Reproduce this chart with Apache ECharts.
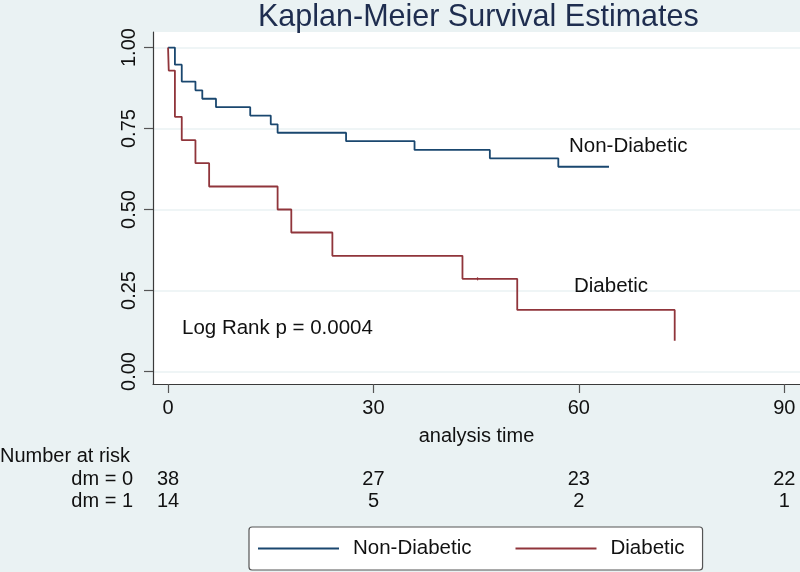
<!DOCTYPE html>
<html>
<head>
<meta charset="utf-8">
<script src="https://cdn.jsdelivr.net/npm/echarts@6/dist/echarts.min.js"></script>
<style>
html,body{margin:0;padding:0;background:#eaf2f3;}
#chart{width:800px;height:572px;}
</style>
</head>
<body>
<div id="chart"></div>
<script>
// ---- data ----
const titleText = 'Kaplan-Meier Survival Estimates';
const seriesNames = ['Non-Diabetic', 'Diabetic'];
const nonDiabeticTimes = [0, 1, 2, 4, 5, 7, 12, 15, 16, 26, 36, 47, 57, 64.4];
const nonDiabeticSurv  = [1, 0.947, 0.895, 0.868, 0.842, 0.816, 0.790, 0.763, 0.737, 0.711, 0.684, 0.658, 0.632, 0.632];
const diabeticTimes = [0, 0.1, 1, 2, 4, 6, 16, 18, 24, 43, 51, 74];
const diabeticSurv  = [1, 0.929, 0.786, 0.714, 0.643, 0.571, 0.5, 0.429, 0.357, 0.286, 0.190, 0.095];
const diabeticCensorTimes = [45.2];
const diabeticCensorSurv  = [0.286];
const xTicks = [0, 30, 60, 90];
const yTicks = [0, 0.25, 0.5, 0.75, 1];
const riskTimes = [0, 30, 60, 90];
const riskGroups = ['dm = 0', 'dm = 1'];
const riskDm0 = [38, 27, 23, 22];
const riskDm1 = [14, 5, 2, 1];
const pValueText = 'Log Rank p = 0.0004';

// ---- build ----
const FONT = "'Liberation Sans', Arial, Helvetica, sans-serif";
const navy = '#1a476f', maroon = '#90353b';
const zip = (a, b) => a.map((v, i) => [v, b[i]]);
const riskData = [];
riskTimes.forEach((t, i) => {
  riskData.push([t, riskGroups[0], riskDm0[i]]);
  riskData.push([t, riskGroups[1], riskDm1[i]]);
});

const chart = echarts.init(document.getElementById('chart'), null, {renderer: 'canvas'});
chart.setOption({
  backgroundColor: '#eaf2f3',
  animation: false,
  textStyle: {fontFamily: FONT},
  title: {
    text: titleText, left: 253, top: -3,
    textStyle: {fontFamily: FONT, fontSize: 30.5, fontWeight: 'normal', color: '#1e2d4f'}
  },
  grid: [
    {left: 153, right: 0, top: 32, bottom: 188, show: true, backgroundColor: '#ffffff', borderWidth: 0},
    {left: 153, right: 0, top: 468, height: 44, show: false}
  ],
  xAxis: [
    {
      type: 'value', gridIndex: 0, min: -2.2, max: 92.3,
      name: 'analysis time', nameLocation: 'middle', nameGap: 42,
      nameTextStyle: {fontFamily: FONT, fontSize: 20, color: '#111'},
      axisLine: {show: true, onZero: false, lineStyle: {color: '#3a3a3a', width: 1.2}},
      axisTick: {show: true, customValues: xTicks, length: 9, lineStyle: {color: '#555', width: 1.2}},
      axisLabel: {customValues: xTicks, margin: 14, fontFamily: FONT, fontSize: 20, color: '#111'},
      splitLine: {show: false}
    },
    {
      type: 'value', gridIndex: 1, min: -2.2, max: 92.3, show: false
    }
  ],
  yAxis: [
    {
      type: 'value', gridIndex: 0, min: -0.0386, max: 1.048,
      axisLine: {show: true, onZero: false, lineStyle: {color: '#3a3a3a', width: 1.2}},
      axisTick: {show: true, customValues: yTicks, length: 9, lineStyle: {color: '#555', width: 1.2}},
      axisLabel: {customValues: yTicks, rotate: 90, margin: 14, fontFamily: FONT, fontSize: 20, color: '#111',
                  formatter: v => Number(v).toFixed(2)},
      splitLine: {show: true, lineStyle: {color: '#eaf2f3', width: 1.5}}
    },
    {
      type: 'category', gridIndex: 1, data: riskGroups, inverse: true,
      axisLine: {show: false}, axisTick: {show: false},
      axisLabel: {interval: 0, margin: 20, fontFamily: FONT, fontSize: 20, color: '#111'}
    }
  ],
  legend: {
    data: seriesNames,
    left: 249, top: 527,
    padding: [11, 18, 11, 9],
    itemGap: 44, itemWidth: 81, itemHeight: 1.8, icon: 'rect',
    backgroundColor: '#ffffff', borderColor: '#555', borderWidth: 1.2, borderRadius: 3,
    textStyle: {fontFamily: FONT, fontSize: 20.5, color: '#111', padding: [0, 0, 0, 9]}
  },
  series: [
    {
      name: seriesNames[0], type: 'line', step: 'end', xAxisIndex: 0, yAxisIndex: 0,
      data: zip(nonDiabeticTimes, nonDiabeticSurv), symbol: 'none',
      lineStyle: {color: navy, width: 1.8}, itemStyle: {color: navy}
    },
    {
      name: seriesNames[1], type: 'line', step: 'end', xAxisIndex: 0, yAxisIndex: 0,
      data: zip(diabeticTimes, diabeticSurv), symbol: 'none',
      lineStyle: {color: maroon, width: 1.8}, itemStyle: {color: maroon}
    },
    {
      name: 'censored', type: 'scatter', xAxisIndex: 0, yAxisIndex: 0,
      data: zip(diabeticCensorTimes, diabeticCensorSurv),
      symbol: 'rect', symbolSize: [1.2, 3], itemStyle: {color: maroon, opacity: 1}, silent: true
    },
    {
      name: 'risk', type: 'scatter', xAxisIndex: 1, yAxisIndex: 1,
      data: riskData, symbolSize: 0, silent: true, itemStyle: {opacity: 1},
      label: {show: true, position: 'inside', fontFamily: FONT, fontSize: 20, color: '#111', opacity: 1,
              formatter: p => String(p.value[2])}
    }
  ],
  graphic: [
    {type: 'text', z: 100, left: 569, top: 136, style: {text: seriesNames[0], font: "20.5px " + FONT, fill: '#111'}},
    {type: 'text', z: 100, left: 574, top: 276, style: {text: seriesNames[1], font: "20.5px " + FONT, fill: '#111'}},
    {type: 'text', z: 100, left: 182, top: 318, style: {text: pValueText, font: "20.5px " + FONT, fill: '#111'}},
    {type: 'text', z: 100, left: 0, top: 446, style: {text: 'Number at risk', font: "20px " + FONT, fill: '#111'}}
  ]
});
</script>
</body>
</html>
